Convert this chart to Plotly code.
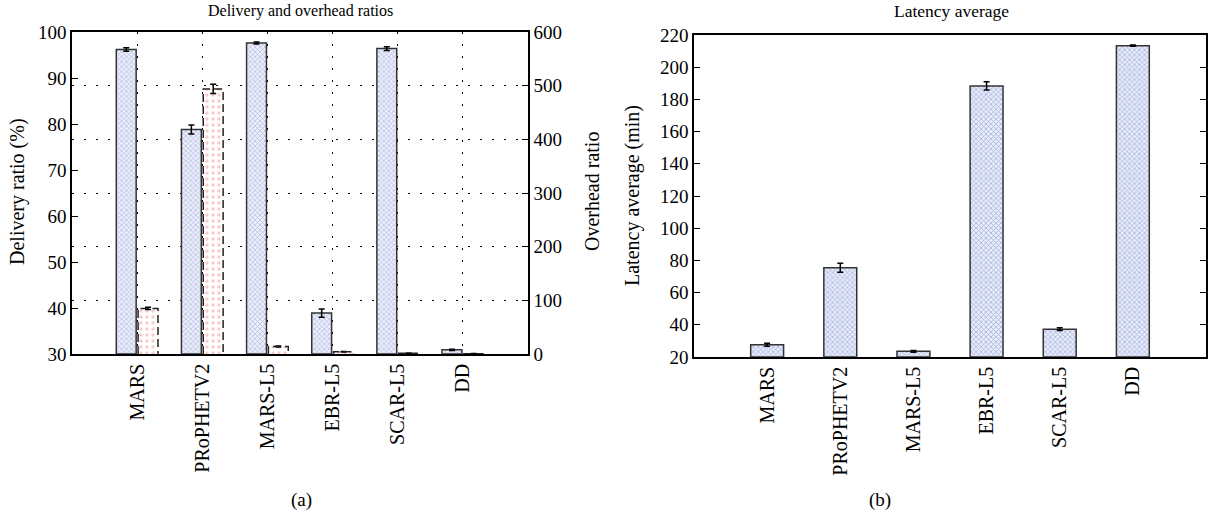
import plotly.graph_objects as go

categories = ["MARS", "PRoPHETV2", "MARS-L5", "EBR-L5", "SCAR-L5", "DD"]
delivery = [96.2, 78.8, 97.6, 38.9, 96.4, 30.9]
delivery_err = [0.4, 1.0, 0.2, 0.9, 0.4, 0.15]
overhead = [85, 494, 14, 4, 1.5, 0.5]
overhead_err = [2, 8.5, 1, 0.5, 0.3, 0.2]
latency = [27.6, 75.5, 23.5, 188.4, 37.3, 213.4]
latency_err = [1.0, 2.8, 0.6, 2.6, 0.8, 0.4]

W, H = 1210, 525
FONT = "Liberation Serif"
xs = list(range(len(categories)))

def px(x):
    return x / W

def py(y):
    return 1 - y / H

fig = go.Figure()

BLUE_OFF, BLUE_W = -0.32, 0.305
RED_OFF, RED_W = 0.015, 0.305

blue_pattern = dict(shape="x", size=3.5, solidity=0.4, fgcolor="#7f8dd0", bgcolor="#eceffa")
red_pattern = dict(shape=".", size=6, solidity=0.25, fgcolor="#f29a9a", bgcolor="#ffffff")

fig.add_trace(go.Bar(
    x=xs, y=[d - 30 for d in delivery], base=30, offset=BLUE_OFF, width=BLUE_W,
    marker=dict(color="#eceffa", pattern=blue_pattern, line=dict(color="#333333", width=1.5)),
    error_y=dict(type="data", array=delivery_err, color="black", thickness=1.5, width=3),
    xaxis="x", yaxis="y", showlegend=False,
))

fig.add_trace(go.Bar(
    x=xs, y=overhead, offset=RED_OFF, width=RED_W,
    marker=dict(color="#ffffff", pattern=red_pattern, line=dict(width=0)),
    error_y=dict(type="data", array=overhead_err, color="black", thickness=1.5, width=3),
    xaxis="x", yaxis="y2", showlegend=False,
))

# dashed outline around overhead bars (derived from the data)
ox, oy = [], []
for i, v in zip(xs, overhead):
    x0, x1 = i + RED_OFF, i + RED_OFF + RED_W
    ox += [x0, x0, x1, x1, None]
    oy += [0, v, v, 0, None]
fig.add_trace(go.Scatter(
    x=ox, y=oy, mode="lines", line=dict(color="#222222", width=1.5, dash="8px,4px"),
    xaxis="x", yaxis="y2", showlegend=False, hoverinfo="skip",
))

fig.add_trace(go.Bar(
    x=xs, y=[v - 20 for v in latency], base=20, width=0.45,
    marker=dict(color="#e8ecf9", pattern=dict(shape="x", size=3.5, solidity=0.45, fgcolor="#7484cc", bgcolor="#e8ecf9"),
                line=dict(color="#333333", width=1.5)),
    error_y=dict(type="data", array=latency_err, color="black", thickness=1.5, width=3),
    xaxis="x2", yaxis="y3", showlegend=False,
))

tickfont = dict(family=FONT, size=19, color="black")
xtickfont = dict(family=FONT, size=20, color="black")
axcommon = dict(showline=True, linecolor="black", linewidth=1.5, automargin=False, zeroline=False)

L0, L1, LT, LB = 72, 528, 32, 354
R0, R1, RT, RB = 694, 1206, 35, 357

fig.update_layout(
    width=W, height=H,
    margin=dict(l=0, r=0, t=0, b=0),
    paper_bgcolor="white", plot_bgcolor="white",
    barmode="overlay",
    font=dict(family=FONT, color="black"),
    xaxis=dict(domain=[px(L0), px(L1)], range=[-1, 6], tickvals=xs, ticktext=categories,
               tickangle=-90, ticks="", mirror=True, showgrid=True, gridcolor="black",
               gridwidth=1, griddash="1.5px,10.5px", anchor="y", tickfont=xtickfont, **axcommon),
    yaxis=dict(domain=[py(LB), py(LT)], range=[30, 100], dtick=10, ticks="inside", ticklen=6,
               tickcolor="black", tickwidth=1.2, showgrid=False, anchor="x", mirror=False,
               tickfont=tickfont, **axcommon),
    yaxis2=dict(overlaying="y", side="right", anchor="x", range=[0, 600], dtick=100,
                ticks="inside", ticklen=6, tickcolor="black", tickwidth=1.2,
                showgrid=True, gridcolor="black", gridwidth=1, griddash="1.5px,10.5px",
                tickfont=tickfont, **axcommon),
    xaxis2=dict(domain=[px(R0), px(R1)], range=[-1, 6], tickvals=xs, ticktext=categories,
                tickangle=-90, ticks="", mirror=True, showgrid=False, anchor="y3",
                tickfont=xtickfont, **axcommon),
    yaxis3=dict(domain=[py(RB), py(RT)], range=[20, 220], dtick=20, ticks="inside", ticklen=6,
                tickcolor="black", tickwidth=1.2, mirror="ticks", showgrid=False, anchor="x2",
                tickfont=tickfont, **axcommon),
)

ann = [
    dict(text="Delivery and overhead ratios", x=px(300), y=py(11), size=16, angle=0),
    dict(text="Latency average", x=px(951), y=py(11), size=17.5, angle=0),
    dict(text="Delivery ratio (%)", x=px(18), y=py(192), size=20, angle=-90),
    dict(text="Overhead ratio", x=px(592), y=py(192), size=20, angle=-90),
    dict(text="Latency average (min)", x=px(633), y=py(196), size=20, angle=-90),
    dict(text="(a)", x=px(301), y=py(500), size=19, angle=0),
    dict(text="(b)", x=px(880), y=py(500), size=19, angle=0),
]
for a in ann:
    fig.add_annotation(text=a["text"], x=a["x"], y=a["y"], xref="paper", yref="paper",
                       showarrow=False, textangle=a["angle"], xanchor="center", yanchor="middle",
                       font=dict(family=FONT, size=a["size"], color="black"))

fig.write_html("out.html", config={"displayModeBar": False},
               post_script="document.body.style.margin='0px';")
